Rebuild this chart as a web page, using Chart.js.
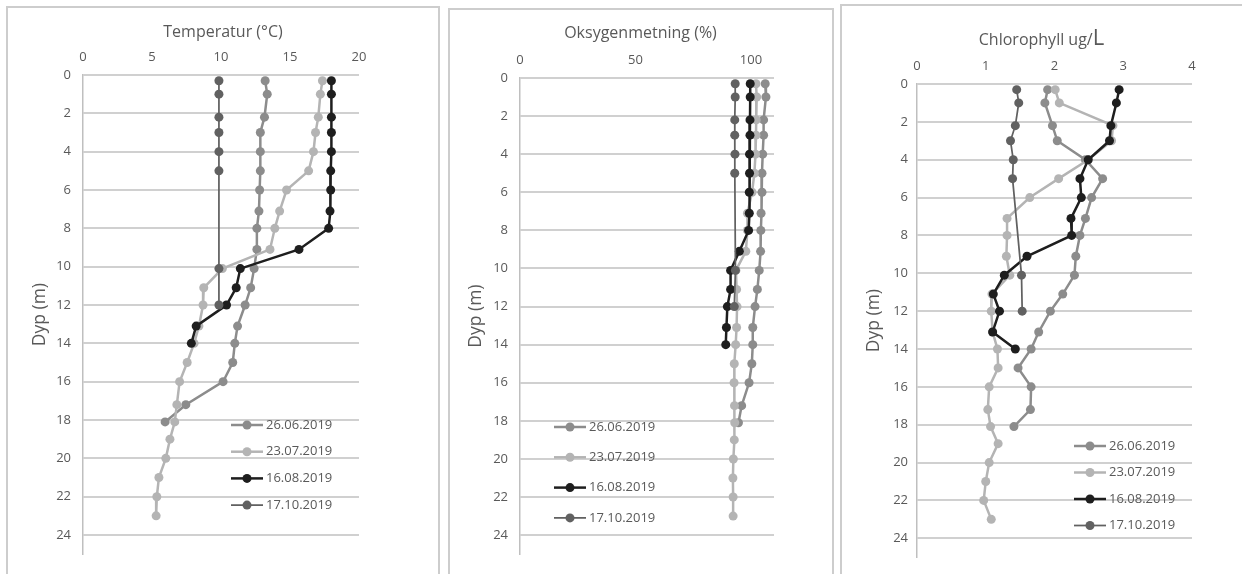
<!DOCTYPE html>
<html>
<head>
<meta charset="utf-8">
<title>Dybdeprofiler 2019</title>
<script src="https://cdn.jsdelivr.net/npm/chart.js@4.4.7/dist/chart.umd.min.js"></script>
<style>
  body { margin: 0; background: #fff; width: 1242px; height: 574px; overflow: hidden; position: relative; }
  .panel { position: absolute; border: 2px solid #cdcdcd; box-sizing: border-box; }
  canvas { position: absolute; top: 0; }
</style>
</head>
<body>
<div class="panel" style="left:6px;top:6px;width:434px;height:600px"></div>
<div class="panel" style="left:448px;top:8px;width:386px;height:600px"></div>
<div class="panel" style="left:840px;top:4px;width:410px;height:600px"></div>
<canvas id="temp" width="432" height="574" style="left:7px"></canvas>
<canvas id="oxy" width="383" height="574" style="left:449px"></canvas>
<canvas id="chl" width="401" height="574" style="left:841px"></canvas>
<script>
// sampling dates
const dates = ['26.06.2019', '23.07.2019', '16.08.2019', '17.10.2019'];

// sampling depths (m) per date
const depthJun = [0.3, 1, 2.2, 3, 4, 5, 6, 7.1, 8, 9.1, 10.1, 11.1, 12, 13.1, 14, 15, 16, 17.2, 18.1];
const depthJul = [0.3, 1, 2.2, 3, 4, 5, 6, 7.1, 8, 9.1, 10.1, 11.1, 12, 13.1, 14, 15, 16, 17.2, 18.1, 19, 20, 21, 22, 23];
const depthAug = [0.3, 1, 2.2, 3, 4, 5, 6, 7.1, 8, 9.1, 10.1, 11.1, 12, 13.1, 14];
const depthOct = [0.3, 1, 2.2, 3, 4, 5, 10.1, 12];

// temperature (°C)
const tempJun = [13.2, 13.35, 13.15, 12.85, 12.85, 12.85, 12.8, 12.75, 12.6, 12.6, 12.4, 12.15, 11.75, 11.2, 11.0, 10.85, 10.15, 7.45, 5.95];
const tempJul = [17.35, 17.2, 17.05, 16.85, 16.7, 16.35, 14.75, 14.25, 13.9, 13.55, 10.1, 8.75, 8.7, 8.4, 8.05, 7.55, 7.0, 6.8, 6.65, 6.3, 6.0, 5.5, 5.35, 5.3];
const tempAug = [18.0, 18.0, 18.0, 18.0, 18.0, 17.95, 17.95, 17.9, 17.8, 15.65, 11.4, 11.1, 10.4, 8.2, 7.85];
const tempOct = [9.85, 9.85, 9.85, 9.85, 9.85, 9.85, 9.85, 9.85];

// oxygen saturation (%)
const oxyJun = [106.2, 106.5, 105.5, 105.5, 105.1, 104.8, 104.8, 104.4, 104.3, 104.2, 103.6, 102.8, 101.8, 100.8, 100.8, 100.4, 99.2, 96.0, 94.6];
const oxyJul = [102.2, 102.5, 102.3, 102.2, 102.0, 101.5, 100.5, 98.5, 98.5, 97.8, 93.5, 93.8, 94.0, 93.8, 93.4, 92.8, 92.7, 92.9, 93.0, 92.8, 92.4, 92.2, 92.3, 92.3];
const oxyAug = [99.7, 99.7, 99.6, 99.6, 99.4, 99.4, 99.3, 99.3, 99.0, 95.0, 91.2, 91.2, 89.8, 89.4, 89.1];
const oxyOct = [93.2, 93.2, 93.0, 93.0, 93.1, 93.0, 93.3, 92.8];

// chlorophyll (ug/L)
const chlJun = [1.9, 1.86, 1.97, 2.04, 2.45, 2.70, 2.54, 2.45, 2.37, 2.31, 2.29, 2.12, 1.94, 1.77, 1.66, 1.47, 1.66, 1.65, 1.41];
const chlJul = [2.01, 2.07, 2.85, 2.83, 2.49, 2.06, 1.64, 1.31, 1.31, 1.30, 1.35, 1.09, 1.08, 1.10, 1.17, 1.18, 1.05, 1.03, 1.07, 1.18, 1.05, 1.0, 0.97, 1.08];
const chlAug = [2.94, 2.90, 2.82, 2.80, 2.49, 2.37, 2.39, 2.24, 2.25, 1.60, 1.27, 1.11, 1.20, 1.10, 1.43];
const chlOct = [1.45, 1.48, 1.43, 1.36, 1.40, 1.39, 1.52, 1.53];

// depth axis
const depthMax = 25;
const depthStep = 2;

const depths = [depthJun, depthJul, depthAug, depthOct];
const seriesStyle = [
    { color: '#8c8c8c', width: 2.5 },
    { color: '#b4b4b4', width: 2.5 },
    { color: '#1e1e1e', width: 2.5 },
    { color: '#616161', width: 1.75 }
];
const textColor = '#595959';
const gridColor = '#d0d0d0';
const fontFamily = "'Open Sans', sans-serif";

Chart.defaults.font.family = fontFamily;
Chart.defaults.color = textColor;

// depth lines as filled bands, one per depth tick, under the series
const depthGrid = {
    id: 'depthGrid',
    beforeDatasetsDraw(chart) {
        const { ctx, chartArea } = chart;
        const yScale = chart.scales.y;
        ctx.save();
        ctx.fillStyle = gridColor;
        yScale.ticks.forEach(t => {
            const y = Math.round(yScale.getPixelForValue(t.value));
            ctx.fillRect(chartArea.left, y - 1, chartArea.right - chartArea.left, 2);
        });
        ctx.restore();
    }
};

// title centred over the whole panel, may mix font sizes
const panelTitle = {
    id: 'panelTitle',
    afterDraw(chart, args, opts) {
        const ctx = chart.ctx;
        ctx.save();
        ctx.fillStyle = textColor;
        ctx.textBaseline = 'alphabetic';
        const widths = opts.parts.map(p => {
            ctx.font = p.size + 'px ' + fontFamily;
            return ctx.measureText(p.text).width;
        });
        let x = chart.width / 2 - widths.reduce((a, b) => a + b, 0) / 2;
        opts.parts.forEach((p, i) => {
            ctx.font = p.size + 'px ' + fontFamily;
            ctx.fillText(p.text, x, opts.baseline);
            x += widths[i];
        });
        ctx.restore();
    }
};

// legend drawn inside the plot area
const panelLegend = {
    id: 'panelLegend',
    afterDraw(chart, args, opts) {
        const { ctx, chartArea } = chart;
        const x0 = chartArea.left + opts.dx;
        ctx.save();
        chart.data.datasets.forEach((ds, i) => {
            const y = chartArea.top + opts.dy + i * opts.gap;
            ctx.strokeStyle = ds.borderColor;
            ctx.lineWidth = ds.borderWidth;
            ctx.beginPath();
            ctx.moveTo(x0, y);
            ctx.lineTo(x0 + 32, y);
            ctx.stroke();
            ctx.fillStyle = ds.backgroundColor;
            ctx.beginPath();
            ctx.arc(x0 + 16, y, ds.pointRadius, 0, Math.PI * 2);
            ctx.fill();
            ctx.fillStyle = textColor;
            ctx.font = '13px ' + fontFamily;
            ctx.textBaseline = 'middle';
            ctx.fillText(ds.label, x0 + 35, y);
        });
        ctx.restore();
    }
};

// ticks only at whole steps between min and max (no extra tick at max)
const stepTicks = step => scale => {
    const out = [];
    for (let v = scale.min; v <= scale.max + 1e-9; v += step) out.push({ value: v });
    scale.ticks = out;
};

const drawPanel = (canvasId, p) => {
    const datasets = p.values.map((vals, i) => ({
        label: dates[i],
        data: vals.map((v, k) => ({ x: v, y: depths[i][k] })),
        showLine: true,
        borderColor: seriesStyle[i].color,
        backgroundColor: seriesStyle[i].color,
        borderWidth: seriesStyle[i].width,
        pointRadius: 4.5,
        pointHoverRadius: 4.5,
        pointBorderWidth: 0,
        order: p.values.length - i
    }));

    return new Chart(document.getElementById(canvasId), {
        type: 'scatter',
        data: { datasets },
        options: {
            responsive: false,
            animation: false,
            devicePixelRatio: 1,
            layout: { padding: { left: 0, top: 0, right: p.padRight, bottom: p.padBottom } },
            plugins: {
                legend: { display: false },
                tooltip: { enabled: false },
                panelTitle: { parts: p.title, baseline: p.titleBaseline },
                panelLegend: p.legend
            },
            scales: {
                x: {
                    type: 'linear',
                    position: 'top',
                    min: 0,
                    max: p.xMax,
                    ticks: { padding: 10, color: textColor, font: { size: 13 } },
                    grid: { display: false, drawTicks: false },
                    border: { display: false },
                    afterBuildTicks: stepTicks(p.xStep),
                    afterFit: s => { s.height = p.top; }
                },
                y: {
                    type: 'linear',
                    reverse: true,
                    min: 0,
                    max: depthMax,
                    ticks: { padding: p.yTickPad, color: textColor, font: { size: 13 } },
                    grid: { display: true, color: gridColor, lineWidth: 2, drawTicks: false },
                    border: { display: true, color: '#bfbfbf', width: 1.5 },
                    title: {
                        display: true,
                        text: 'Dyp (m)',
                        color: textColor,
                        font: { size: 17.5 },
                        padding: { top: p.yTitlePad, bottom: 0 }
                    },
                    afterBuildTicks: stepTicks(depthStep),
                    afterFit: s => { s.width = p.left; }
                }
            }
        },
        plugins: [depthGrid, panelTitle, panelLegend]
    });
};

drawPanel('temp', {
    values: [tempJun, tempJul, tempAug, tempOct],
    xMax: 20, xStep: 5,
    left: 76, top: 75, padRight: 80, padBottom: 13,
    yTickPad: 12, yTitlePad: 23,
    title: [{ text: 'Temperatur (°C)', size: 16 }],
    titleBaseline: 37,
    legend: { dx: 148, dy: 350, gap: 26.7 }
});

drawPanel('oxy', {
    values: [oxyJun, oxyJul, oxyAug, oxyOct],
    xMax: 110, xStep: 50,
    left: 71, top: 78, padRight: 58, padBottom: 12,
    yTickPad: 12, yTitlePad: 17,
    title: [{ text: 'Oksygenmetning (%)', size: 16 }],
    titleBaseline: 38,
    legend: { dx: 34, dy: 349, gap: 30.3 }
});

drawPanel('chl', {
    values: [chlJun, chlJul, chlAug, chlOct],
    xMax: 4, xStep: 1,
    left: 76, top: 84, padRight: 50, padBottom: 13,
    yTickPad: 9, yTitlePad: 23,
    title: [{ text: 'Chlorophyll ug/', size: 16 }, { text: 'L', size: 22 }],
    titleBaseline: 45,
    legend: { dx: 157, dy: 362, gap: 26.5 }
});
</script>
</body>
</html>
